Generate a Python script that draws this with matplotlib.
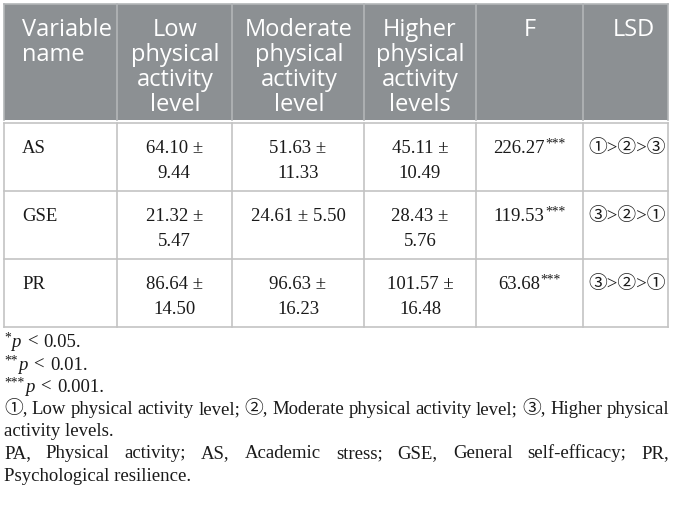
import matplotlib
matplotlib.use("Agg")
import matplotlib.pyplot as plt
from matplotlib.patches import Rectangle

# ---------------- data ----------------
header_lines = [
    ["Variable", "name"],
    ["Low", "physical", "activity", "level"],
    ["Moderate", "physical", "activity", "level"],
    ["Higher", "physical", "activity", "levels"],
    ["F"],
    ["LSD"],
]
variables = ["AS", "GSE", "PR"]
low_mean = [64.10, 21.32, 86.64]
low_sd = [9.44, 5.47, 14.50]
mod_mean = [51.63, 24.61, 96.63]
mod_sd = [11.33, 5.50, 16.23]
high_mean = [45.11, 28.43, 101.57]
high_sd = [10.49, 5.76, 16.48]
f_values = [226.27, 119.53, 63.68]
f_stars = ["***", "***", "***"]
lsd_order = ["①>②>③", "③>②>①", "③>②>①"]

sig_notes = [("*", "0.05"), ("**", "0.01"), ("***", "0.001")]
legend_lines = [
    ("①, Low physical activity level; ②, Moderate physical activity level; ③, Higher physical", True),
    ("activity levels.", False),
    ("PA, Physical activity; AS, Academic stress; GSE, General self-efficacy; PR,", True),
    ("Psychological resilience.", False),
]

# ---------------- layout ----------------
W, H, DPI = 673, 507, 100
col_edges = [4, 116.5, 232, 364, 476, 583, 667.5]
header_top, header_bot = 4, 120
row_edges = [123, 191, 259, 327]

HEADER_BG = "#8c9093"
HEADER_SEP = "#b3b6b8"
GRID = "#c3c3c3"
TXT = "#1a1a1a"

SERIF_FB = ["Liberation Serif", "Noto Sans CJK SC", "DejaVu Sans"]
SANS = ["Open Sans", "DejaVu Sans"]
BODY_FS = 13.5
NOTE_FS = 13.5
HEAD_FS = 17


def fam(s):
    return SERIF_FB if any(ord(c) > 0x2000 for c in s) else "Liberation Serif"


fig = plt.figure(figsize=(W / DPI, H / DPI), dpi=DPI)
ax = fig.add_axes([0, 0, 1, 1])
ax.set_xlim(0, W)
ax.set_ylim(H, 0)
ax.axis("off")
renderer = fig.canvas.get_renderer()


def width_of(s, **kw):
    t = ax.text(0, 0, s, **kw)
    w = t.get_window_extent(renderer).width
    t.remove()
    return w


def draw_runs(x, y, runs, ha="left"):
    """runs: list of (text, kwargs, dy, gap_after)"""
    widths = [width_of(r[0], **r[1]) for r in runs]
    total = sum(widths) + sum(r[3] for r in runs[:-1])
    if ha == "center":
        x0 = x - total / 2
    elif ha == "right":
        x0 = x - total
    else:
        x0 = x
    for (s, kw, dy, gap), w in zip(runs, widths):
        ax.text(x0, y + dy, s, ha="left", va="baseline", **kw)
        x0 += w + gap


# ---------------- header ----------------
ax.add_patch(Rectangle((col_edges[0], header_top), col_edges[-1] - col_edges[0],
                       header_bot - header_top, facecolor=HEADER_BG, edgecolor="none"))
ax.plot([col_edges[0], col_edges[-1]], [header_top, header_top], color=HEADER_SEP, lw=1.2)
for xe in col_edges:
    ax.plot([xe, xe], [header_top, header_bot], color=HEADER_SEP, lw=1.2)

head_baselines = [36, 61, 86, 111]
head_x = [22, 175, 299, 420, 529.5, 655]
head_ha = ["left", "center", "center", "center", "center", "right"]
for ci, lines in enumerate(header_lines):
    for li, line in enumerate(lines):
        ax.text(head_x[ci], head_baselines[li], line, ha=head_ha[ci], va="baseline",
                fontsize=HEAD_FS, family=SANS, color="white")

# ---------------- body grid ----------------
for ye in row_edges:
    ax.plot([col_edges[0], col_edges[-1]], [ye, ye], color=GRID, lw=1.2)
for xe in col_edges:
    ax.plot([xe, xe], [row_edges[0], row_edges[-1]], color=GRID, lw=1.2)

body_kw = dict(fontsize=BODY_FS, family="Liberation Serif", color=TXT)
sup_kw = dict(fontsize=BODY_FS * 0.72, family="Liberation Serif", color=TXT)
centers = [(col_edges[i] + col_edges[i + 1]) / 2 for i in range(len(col_edges) - 1)]

groups = [(low_mean, low_sd), (mod_mean, mod_sd), (high_mean, high_sd)]
for ri, var in enumerate(variables):
    top = row_edges[ri]
    y1, y2 = top + 30, top + 55
    ax.text(22, y1, var, ha="left", va="baseline", **body_kw)
    for gi, (means, sds) in enumerate(groups):
        ci = gi + 1
        full = f"{means[ri]:.2f} ± {sds[ri]:.2f}"
        avail = (col_edges[ci + 1] - col_edges[ci]) - 32
        if width_of(full, **body_kw) <= avail:
            ax.text(centers[ci], y1, full, ha="center", va="baseline", **body_kw)
        else:
            ax.text(centers[ci], y1, f"{means[ri]:.2f} ±", ha="center", va="baseline", **body_kw)
            ax.text(centers[ci], y2, f"{sds[ri]:.2f}", ha="center", va="baseline", **body_kw)
    draw_runs(centers[4], y1, [(f"{f_values[ri]:.2f}", body_kw, 0, 0.5),
                               (f_stars[ri], sup_kw, -5, 0)], ha="center")
    ax.text(666, y1, lsd_order[ri], ha="right", va="baseline",
            fontsize=BODY_FS, family=fam(lsd_order[ri]), color=TXT)

# ---------------- footnotes ----------------
note_kw = dict(fontsize=NOTE_FS, family="Liberation Serif", color=TXT)
note_it = dict(fontsize=NOTE_FS, family="Liberation Serif", style="italic", color=TXT)
note_sup = dict(fontsize=NOTE_FS * 0.72, family="Liberation Serif", color=TXT)
space_w = width_of("x x", **note_kw) - width_of("xx", **note_kw)

note_baselines = [347, 369.5, 392, 414, 436.5, 458.5, 481]
for i, (stars, pval) in enumerate(sig_notes):
    draw_runs(4, note_baselines[i], [
        (stars, note_sup, -5, 0.5),
        ("p", note_it, 0, space_w * 1.3),
        ("<", note_kw, 0, space_w * 1.3),
        (pval + ".", note_kw, 0, 0),
    ])

left, right = 4, 669
for j, (line, justify) in enumerate(legend_lines):
    y = note_baselines[3 + j]
    if not justify:
        ax.text(left, y, line, ha="left", va="baseline", **note_kw)
        continue
    words = line.split(" ")
    kws = [dict(fontsize=NOTE_FS, family=fam(w), color=TXT) for w in words]
    ws = [width_of(w, **k) for w, k in zip(words, kws)]
    gap = (right - left - sum(ws)) / (len(words) - 1)
    x = left
    for w, wd, k in zip(words, ws, kws):
        ax.text(x, y, w, ha="left", va="baseline", **k)
        x += wd + gap

fig.savefig("out.png", dpi=DPI, facecolor="white")
